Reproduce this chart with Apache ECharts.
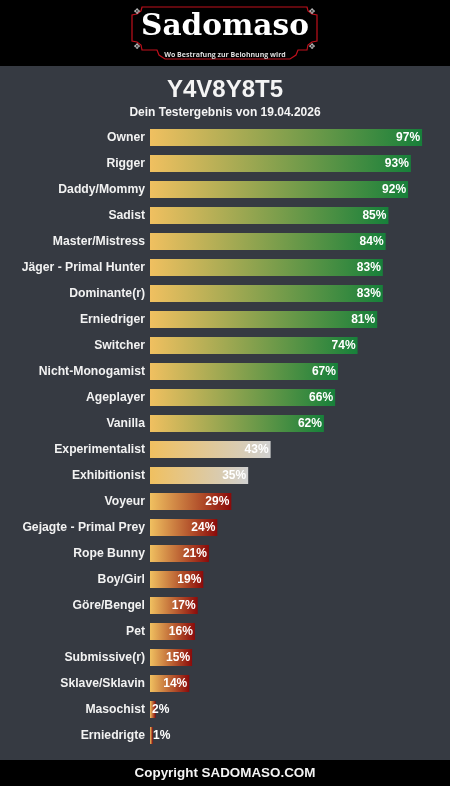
<!DOCTYPE html>
<html><head><meta charset="utf-8">
<style>html,body{margin:0;padding:0;background:#363a42}#c{width:450px;height:786px}</style>
<script src="https://cdn.jsdelivr.net/npm/echarts@6/dist/echarts.min.js"></script>
</head><body><div id="c"></div>
<script>
const categories = ["Owner","Rigger","Daddy/Mommy","Sadist","Master/Mistress","Jäger - Primal Hunter","Dominante(r)","Erniedriger","Switcher","Nicht-Monogamist","Ageplayer","Vanilla","Experimentalist","Exhibitionist","Voyeur","Gejagte - Primal Prey","Rope Bunny","Boy/Girl","Göre/Bengel","Pet","Submissive(r)","Sklave/Sklavin","Masochist","Erniedrigte"];
const values = [97,93,92,85,84,83,83,81,74,67,66,62,43,35,29,24,21,19,17,16,15,14,2,1];
const title = "Y4V8Y8T5";
const subtitle = "Dein Testergebnis von 19.04.2026";
const footer = "Copyright SADOMASO.COM";
const logoName = "Sadomaso";
const logoTag = "Wo Bestrafung zur Belohnung wird";
const START = "#f0c060", HIGH = "#17803a", MID = "#d0d0d0", LOW = "#8b0a0a";
const endColor = v => v >= 50 ? HIGH : v >= 30 ? MID : LOW;
const chart = echarts.init(document.getElementById('c'), null, {renderer:'canvas'});
const font = '"Liberation Sans", Arial, sans-serif';
const ornaments = [[137,12],[312,12],[137,47],[312,47]];
const frame = [[142,7],[307,7],[308,11],[312,14],[317,15],[317,41],[312,42],[308,45],[307,50],[298,50],[296,55],[290,59],[165,59],[159,55],[157,50],[142,50],[141,45],[137,42],[132,41],[132,15],[137,14],[141,11]];
chart.setOption({
  animation:false,
  backgroundColor:'#363a42',
  grid:{left:150,top:124.5,width:280.5,height:624},
  xAxis:{type:'value',min:0,max:100,show:false},
  yAxis:{type:'category',inverse:true,data:categories,axisLine:{show:false},axisTick:{show:false},
    axisLabel:{color:'#f2f2f2',fontFamily:font,fontSize:12.2,fontWeight:'bold',margin:5,padding:[2,0,0,0]}},
  series:[{type:'bar',barWidth:17,silent:true,
    data:values.map(v=>({value:v,
      itemStyle:{color:new echarts.graphic.LinearGradient(0,0,1,0,[{offset:0,color:START},{offset:1,color:endColor(v)}])},
      label: v<5 ? {position:'insideLeft',distance:v<2?3:2} : {position:'insideRight',distance:2}
    })),
    label:{show:true,formatter:p=>p.value+'%',color:'#fff',fontFamily:font,fontSize:12,fontWeight:'bold',padding:[2,0,0,0]}
  }],
  graphic:[
    {type:'rect',z:10,shape:{x:0,y:0,width:450,height:66},style:{fill:'#000'}},
    {type:'rect',z:10,shape:{x:0,y:760,width:450,height:26},style:{fill:'#000'}},
    {type:'polygon',z:11,shape:{points:frame},style:{stroke:'#c0101c',fill:'#000',lineWidth:1.2}},
    ...ornaments.map(([x,y])=>({type:'text',z:12,x,y,style:{text:'✥',fill:'#bbb',font:'8px "DejaVu Sans"',align:'center',verticalAlign:'middle'}})),
    {type:'text',z:12,x:225,y:27,style:{text:logoName,fill:'#fff',font:'bold 29.6px "DejaVu Serif", serif',align:'center',verticalAlign:'middle'}},
    {type:'text',z:12,x:225,y:55,style:{text:logoTag,fill:'#ddd',font:'bold 7px "Open Sans", sans-serif',align:'center',verticalAlign:'middle'}},
    {type:'text',z:12,x:225,y:90,style:{text:title,fill:'#f4f4f4',font:'bold 24px '+font,align:'center',verticalAlign:'middle'}},
    {type:'text',z:12,x:225,y:112.5,style:{text:subtitle,fill:'#f4f4f4',font:'bold 12px '+font,align:'center',verticalAlign:'middle'}},
    {type:'text',z:12,x:225,y:773,style:{text:footer,fill:'#f4f4f4',font:'bold 13.4px '+font,align:'center',verticalAlign:'middle'}}
  ]
});
</script></body></html>
